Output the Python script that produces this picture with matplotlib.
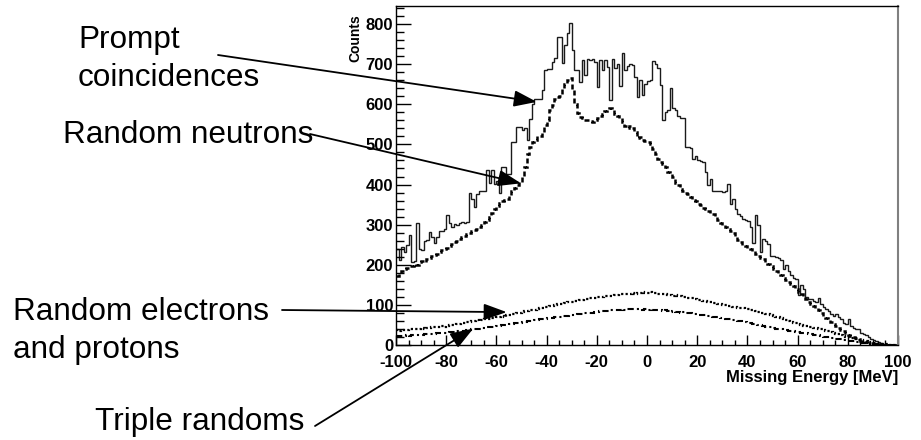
import numpy as np
import matplotlib
matplotlib.use("Agg")
import matplotlib.pyplot as plt
from matplotlib.ticker import MultipleLocator

plt.rcParams["axes.unicode_minus"] = False

# Missing-energy histograms, 1 MeV bins from -100 to 100 MeV
e_lo, e_hi, e_bin = -100, 100, 1

prompt = [
    240, 212, 245, 232, 250, 275, 207, 210, 305, 240,
    237, 258, 262, 282, 270, 255, 268, 283, 285, 288,
    325, 305, 295, 302, 300, 303, 306, 305, 306, 380,
    363, 343, 377, 385, 383, 385, 435, 405, 435, 402,
    410, 380, 443, 443, 427, 427, 506, 506, 543, 543,
    535, 540, 510, 564, 600, 613, 613, 613, 635, 685,
    688, 688, 706, 715, 768, 768, 702, 747, 777, 803,
    735, 685, 685, 656, 710, 672, 714, 710, 712, 705,
    643, 710, 685, 710, 693, 610, 712, 691, 700, 645,
    728, 686, 695, 700, 699, 668, 618, 660, 622, 650,
    657, 660, 708, 700, 690, 647, 560, 580, 585, 641,
    590, 585, 570, 566, 566, 493, 493, 490, 464, 472,
    460, 458, 455, 431, 398, 414, 385, 385, 383, 385,
    382, 385, 402, 352, 364, 339, 327, 322, 314, 312,
    310, 293, 255, 325, 300, 231, 264, 260, 252, 222,
    222, 220, 218, 213, 190, 200, 185, 175, 168, 165,
    125, 150, 140, 120, 115, 114, 110, 108, 118, 102,
    95, 89, 85, 78, 72, 77, 70, 64, 56, 52,
    64, 47, 42, 39, 39, 31, 28, 25, 19, 16,
    13, 10, 7, 4, 2, 1, 1, 0, 0, 0,
]

random_neutrons = [
    172, 180, 185, 189, 193, 196, 198, 202, 200, 206,
    210, 208, 214, 218, 221, 225, 227, 232, 236, 240,
    243, 248, 251, 256, 260, 264, 268, 272, 277, 279,
    283, 286, 289, 294, 300, 306, 312, 320, 328, 339,
    346, 355, 360, 362, 364, 372, 385, 392, 400, 406,
    420, 443, 475, 493, 505, 512, 520, 522, 530, 548,
    562, 586, 598, 612, 618, 620, 640, 650, 660, 665,
    635, 600, 578, 568, 565, 562, 560, 558, 557, 562,
    565, 570, 575, 583, 585, 590, 588, 575, 572, 565,
    555, 545, 542, 545, 540, 530, 517, 518, 512, 508,
    505, 500, 488, 475, 463, 455, 450, 443, 432, 425,
    418, 405, 398, 390, 385, 380, 377, 370, 362, 360,
    352, 348, 342, 339, 335, 330, 327, 320, 312, 305,
    300, 295, 290, 283, 278, 268, 262, 256, 250, 246,
    243, 240, 234, 228, 222, 218, 214, 208, 202, 196,
    190, 185, 180, 175, 168, 162, 156, 152, 146, 140,
    133, 127, 120, 114, 108, 102, 97, 91, 86, 79,
    72, 67, 62, 57, 52, 47, 43, 38, 34, 30,
    26, 23, 20, 17, 14, 11, 9, 7, 6, 4,
    3, 3, 2, 2, 1, 1, 1, 0, 0, 0,
]

random_e_p = [
    37, 36, 38, 38, 37, 39, 40, 39, 41, 41,
    42, 41, 43, 43, 44, 45, 44, 46, 47, 46,
    48, 49, 50, 50, 52, 53, 54, 55, 57, 58,
    60, 60, 62, 61, 63, 64, 66, 65, 67, 68,
    69, 70, 72, 71, 74, 76, 77, 78, 79, 81,
    82, 84, 85, 86, 87, 88, 90, 91, 92, 94,
    95, 96, 98, 99, 101, 102, 103, 105, 106, 107,
    108, 110, 110, 112, 113, 114, 115, 117, 117, 118,
    119, 120, 120, 122, 121, 122, 123, 125, 124, 126,
    127, 126, 128, 127, 129, 128, 130, 129, 131, 130,
    130, 131, 129, 130, 128, 127, 128, 126, 125, 124,
    123, 124, 122, 121, 120, 119, 118, 118, 116, 115,
    113, 112, 110, 109, 108, 106, 105, 104, 102, 101,
    100, 99, 97, 96, 95, 94, 93, 92, 91, 90,
    89, 88, 87, 85, 83, 81, 80, 78, 77, 75,
    73, 71, 69, 67, 65, 63, 60, 58, 56, 54,
    52, 50, 48, 47, 46, 44, 43, 42, 41, 39,
    37, 36, 34, 32, 30, 28, 27, 25, 23, 21,
    20, 18, 17, 15, 13, 12, 10, 9, 7, 6,
    5, 4, 3, 3, 2, 2, 1, 1, 0, 0,
]

triple_randoms = [
    22, 23, 22, 23, 24, 23, 24, 25, 25, 26,
    26, 27, 27, 28, 27, 28, 29, 29, 30, 30,
    31, 32, 32, 33, 34, 35, 35, 36, 37, 38,
    39, 40, 40, 41, 42, 43, 44, 44, 45, 46,
    47, 48, 49, 50, 51, 52, 53, 54, 55, 56,
    57, 58, 59, 60, 61, 62, 63, 64, 65, 66,
    67, 68, 68, 69, 70, 71, 72, 72, 73, 74,
    75, 76, 77, 77, 78, 79, 80, 80, 81, 82,
    83, 84, 84, 85, 85, 86, 87, 87, 88, 88,
    89, 88, 89, 90, 89, 90, 89, 90, 88, 89,
    88, 89, 87, 88, 86, 87, 85, 86, 84, 83,
    84, 82, 83, 81, 82, 80, 79, 79, 78, 77,
    76, 75, 74, 74, 73, 72, 71, 70, 69, 68,
    67, 66, 65, 64, 63, 62, 60, 59, 58, 57,
    55, 54, 53, 52, 50, 49, 48, 46, 45, 44,
    42, 41, 40, 39, 38, 37, 36, 35, 34, 33,
    32, 31, 30, 29, 28, 27, 26, 25, 24, 22,
    21, 20, 19, 18, 17, 16, 15, 14, 13, 12,
    11, 10, 9, 8, 7, 6, 5, 4, 3, 3,
    2, 2, 1, 1, 1, 0, 0, 0, 0, 0,
]

# annotation labels and the (MeV, counts) point each arrow indicates
labels = ["Prompt\ncoincidences", "Random neutrons",
          "Random electrons\nand protons", "Triple randoms"]
arrow_targets = [(-43.9, 606), (-50.2, 403), (-55.9, 82), (-69.2, 41)]

edges = np.arange(e_lo, e_hi + e_bin, e_bin)

W, H = 921, 440
fig = plt.figure(figsize=(W / 100, H / 100), dpi=100)
ax = fig.add_axes([396 / W, 1 - 345 / H, 502 / W, 339 / H])

ax.stairs(prompt, edges, color="#1a1a1a", lw=1.0, baseline=None)
ax.stairs(random_neutrons, edges, color="black", lw=1.8,
          linestyle=(0, (2.0, 1.2)), baseline=None)
ax.stairs(random_e_p, edges, color="black", lw=1.6,
          linestyle=(0, (1, 1.0)), baseline=None)
ax.stairs(triple_randoms, edges, color="black", lw=1.5,
          linestyle=(0, (3, 1.5, 1, 1.5)), baseline=None)

ax.set_xlim(e_lo, e_hi)
ax.set_ylim(0, 845)

tick_font = dict(family="Liberation Sans", weight="bold", size=12)
ax.xaxis.set_major_locator(MultipleLocator(20))
ax.xaxis.set_minor_locator(MultipleLocator(5))
ax.yaxis.set_major_locator(MultipleLocator(100))
ax.yaxis.set_minor_locator(MultipleLocator(20))
ax.tick_params(axis="y", which="major", direction="in", length=11, width=1.0, pad=2)
ax.tick_params(axis="y", which="minor", direction="in", length=5.5, width=1.0)
ax.tick_params(axis="x", which="major", direction="in", length=7, width=1.0, pad=7)
ax.tick_params(axis="x", which="minor", direction="in", length=3.5, width=1.0)
for lab in ax.get_xticklabels() + ax.get_yticklabels():
    lab.set_fontproperties(matplotlib.font_manager.FontProperties(**tick_font))

for side in ["left", "bottom", "top"]:
    ax.spines[side].set_color("black")
    ax.spines[side].set_linewidth(1.0)
ax.spines["right"].set_color("#808080")
ax.spines["right"].set_linewidth(1.5)

fig.text(898 / W, 1 - 382 / H, "Missing Energy [MeV]", ha="right", va="baseline",
         **tick_font)
fig.text(355 / W, 1 - 14 / H, "Counts", rotation=90, ha="center", va="top",
         family="Liberation Sans", weight="bold", size=10)

# annotation text (pixel positions of first-line baselines)
note_font = dict(family="Liberation Sans", size=22.7, color="black")
text_pos = [(78, 48), (63, 143), (13, 320), (95, 430)]
for text, (px, py) in zip(labels, text_pos):
    for k, line in enumerate(text.split("\n")):
        fig.text(px / W, 1 - (py + k * 38) / H, line, ha="left", va="baseline",
                 **note_font)

arrow_starts = [(218, 55), (310, 134), (282, 310), (315, 426)]
for (sx, sy), target in zip(arrow_starts, arrow_targets):
    ax.annotate("", xy=target, xycoords="data",
                xytext=(sx, H - sy), textcoords="figure pixels",
                arrowprops=dict(arrowstyle="-|>,head_length=1.4,head_width=0.5",
                                mutation_scale=10, color="black", lw=1.3,
                                shrinkA=0, shrinkB=0),
                annotation_clip=False)

fig.savefig("out.png", dpi=100)
